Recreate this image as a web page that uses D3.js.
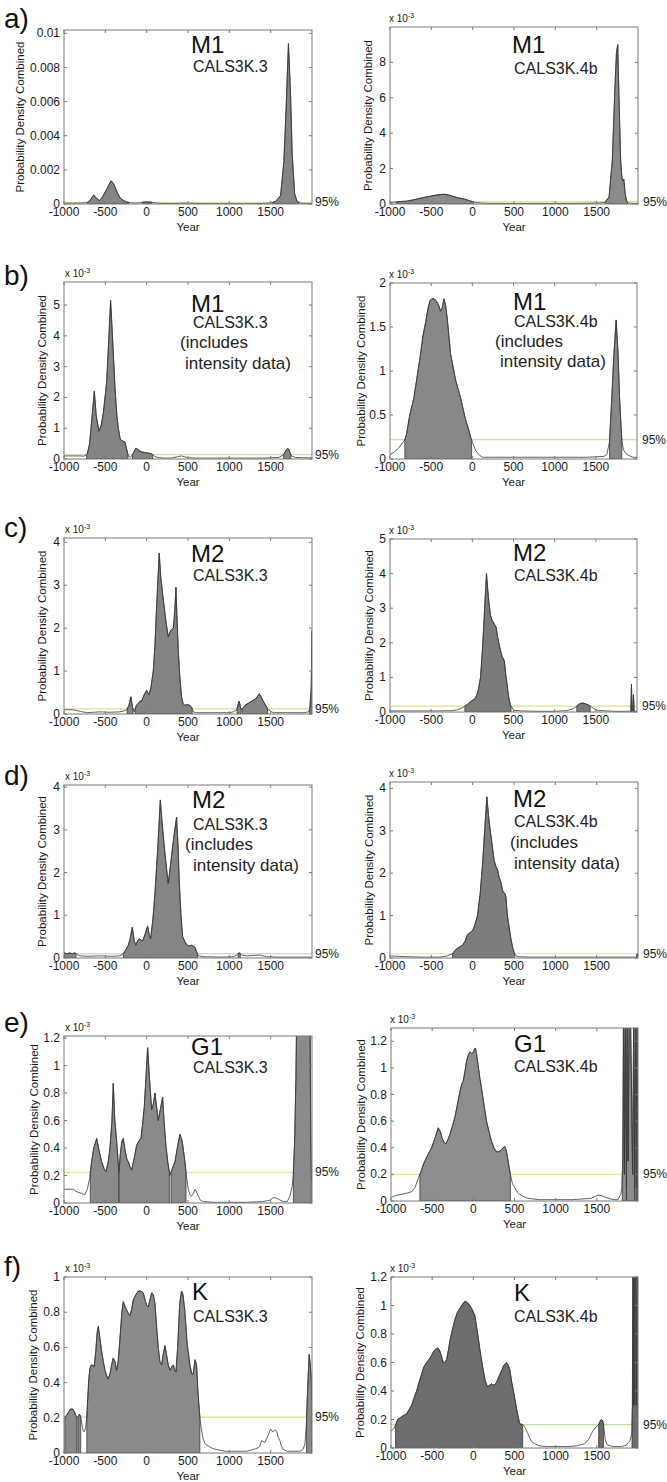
<!DOCTYPE html>
<html>
<head>
<meta charset="utf-8">
<script src="https://cdn.jsdelivr.net/npm/d3@7"></script>
<style>
  html, body { margin: 0; padding: 0; background: #fff; }
  svg { display: block; font-family: "Liberation Sans", Arial, sans-serif; }
</style>
</head>
<body>
<svg id="chart" width="667" height="1482"></svg>
<script>
// ---------------- DATA (year, probability density in units of 1e-3) ----------------
const M1_CALS3K3 = [[-1000,0.05],[-900,0.05],[-800,0.05],[-720,0.08],[-680,0.25],[-640,0.53],[-600,0.3],[-570,0.2],[-530,0.45],[-480,0.9],[-430,1.36],[-400,1.2],[-360,0.7],[-320,0.35],[-280,0.2],[-240,0.12],[-200,0.08],[-150,0.05],[-100,0.06],[-50,0.1],[0,0.13],[50,0.11],[100,0.06],[200,0.03],[300,0.03],[400,0.04],[500,0.05],[600,0.03],[800,0.02],[1000,0.02],[1200,0.02],[1400,0.03],[1500,0.06],[1560,0.15],[1620,0.5],[1660,2.5],[1690,6],[1715,9.4],[1740,6.5],[1760,3],[1790,0.6],[1820,0.15],[1860,0.05],[1950,0.03],[2000,0.03]];

const M1_CALS3K4b = [[-1000,0.08],[-970,0.1],[-900,0.13],[-800,0.16],[-700,0.25],[-600,0.36],[-500,0.45],[-420,0.52],[-350,0.55],[-300,0.52],[-250,0.45],[-180,0.35],[-100,0.28],[-50,0.2],[0,0.13],[50,0.08],[100,0.05],[200,0.03],[400,0.03],[600,0.03],[800,0.03],[1000,0.03],[1200,0.03],[1400,0.04],[1550,0.06],[1600,0.1],[1650,0.4],[1690,2.5],[1720,6.5],[1740,8.6],[1755,9.0],[1770,6],[1790,2.5],[1805,1.5],[1815,1.3],[1828,1.4],[1845,0.6],[1860,0.2],[1880,0.05],[1950,0.03],[2000,0.03]];

const M1int_CALS3K3 = [[-1000,0.1],[-900,0.1],[-800,0.1],[-760,0.09],[-720,0.15],[-690,0.5],[-660,1.4],[-633,2.2],[-610,1.4],[-577,0.9],[-550,1.1],[-524,1.5],[-484,2.5],[-460,3.8],[-436,5.15],[-410,3.8],[-383,2.3],[-360,1.4],[-343,1.0],[-320,0.65],[-303,0.6],[-263,0.55],[-240,0.3],[-222,0.1],[-195,0.05],[-170,0.15],[-130,0.35],[-100,0.3],[-81,0.25],[-40,0.22],[0,0.2],[40,0.18],[70,0.15],[100,0.08],[140,0.05],[200,0.03],[300,0.03],[420,0.1],[500,0.04],[600,0.03],[800,0.03],[1000,0.03],[1200,0.03],[1400,0.03],[1600,0.05],[1660,0.15],[1690,0.3],[1705,0.35],[1720,0.3],[1750,0.1],[1800,0.05],[1900,0.04],[2000,0.04]];

const M1int_CALS3K4b = [[-1000,0.05],[-950,0.08],[-900,0.12],[-850,0.18],[-820,0.22],[-800,0.28],[-760,0.5],[-709,0.7],[-660,1.0],[-628,1.2],[-600,1.4],[-568,1.55],[-540,1.7],[-515,1.8],[-490,1.82],[-467,1.82],[-440,1.8],[-410,1.75],[-386,1.68],[-365,1.72],[-346,1.82],[-325,1.75],[-305,1.6],[-265,1.2],[-204,0.9],[-144,0.7],[-83,0.45],[-40,0.32],[-22,0.25],[0,0.2],[38,0.1],[80,0.05],[119,0.02],[200,0.02],[400,0.02],[600,0.02],[800,0.02],[1000,0.02],[1200,0.02],[1400,0.02],[1600,0.03],[1634,0.05],[1666,0.2],[1694,0.7],[1720,1.2],[1747,1.58],[1770,1.2],[1788,0.7],[1816,0.2],[1836,0.1],[1876,0.05],[1950,0.02],[2000,0.02]];

const M2_CALS3K3 = [[-1000,0.1],[-900,0.1],[-847,0.08],[-800,0.06],[-726,0.03],[-650,0.04],[-565,0.05],[-450,0.04],[-323,0.05],[-260,0.08],[-242,0.1],[-215,0.2],[-190,0.4],[-170,0.15],[-150,0.05],[-125,0.2],[-101,0.25],[-80,0.3],[-61,0.3],[-30,0.45],[0,0.55],[28,0.45],[50,0.6],[80,1.0],[100,1.6],[120,2.5],[152,3.75],[170,3.2],[193,2.8],[230,2.2],[261,1.8],[290,1.95],[322,2.0],[340,2.4],[354,2.95],[368,2.2],[382,1.5],[400,0.9],[422,0.4],[440,0.25],[463,0.2],[490,0.22],[523,0.2],[545,0.15],[563,0.05],[600,0.03],[800,0.03],[1000,0.03],[1047,0.05],[1090,0.1],[1110,0.25],[1120,0.3],[1135,0.15],[1148,0.1],[1170,0.15],[1188,0.2],[1230,0.25],[1269,0.3],[1320,0.35],[1361,0.47],[1385,0.4],[1410,0.3],[1440,0.2],[1470,0.1],[1531,0.03],[1700,0.03],[1900,0.03],[1960,0.05],[1975,0.15],[1990,0.6],[2000,1.95]];

const M2_CALS3K4b = [[-1000,0.03],[-800,0.03],[-600,0.03],[-400,0.03],[-250,0.04],[-184,0.06],[-140,0.1],[-103,0.15],[-60,0.22],[-22,0.3],[10,0.35],[38,0.4],[70,0.6],[99,1.0],[120,1.7],[139,2.5],[158,3.4],[172,4.0],[185,3.6],[200,3.2],[220,2.8],[240,2.65],[265,2.55],[289,2.45],[305,2.2],[321,2.0],[340,1.8],[362,1.6],[376,1.55],[390,1.45],[405,1.1],[422,0.8],[440,0.45],[462,0.2],[503,0.05],[600,0.03],[800,0.02],[1000,0.02],[1150,0.04],[1230,0.1],[1260,0.15],[1290,0.22],[1320,0.25],[1343,0.26],[1380,0.23],[1412,0.2],[1445,0.15],[1473,0.1],[1513,0.05],[1700,0.02],[1900,0.02],[1925,0.03],[1933,0.8],[1940,0.05],[1950,0.04],[1957,0.5],[1965,0.04],[1980,0.02],[2000,0.02]];

const M2int_CALS3K3 = [[-1000,0.12],[-960,0.1],[-930,0.12],[-900,0.1],[-870,0.12],[-840,0.08],[-807,0.05],[-700,0.04],[-565,0.05],[-420,0.04],[-323,0.05],[-283,0.1],[-250,0.2],[-222,0.3],[-200,0.45],[-174,0.72],[-150,0.4],[-130,0.3],[-110,0.4],[-89,0.45],[-70,0.42],[-49,0.4],[-20,0.55],[12,0.75],[30,0.55],[48,0.45],[75,0.9],[100,1.5],[135,2.6],[165,3.7],[190,3.1],[213,2.6],[240,2.1],[261,1.75],[290,2.2],[314,2.6],[340,3.0],[362,3.3],[380,2.6],[394,1.8],[415,1.0],[435,0.5],[470,0.35],[503,0.28],[543,0.3],[584,0.25],[610,0.12],[624,0.05],[700,0.03],[900,0.02],[1050,0.03],[1100,0.08],[1115,0.12],[1128,0.11],[1150,0.07],[1208,0.05],[1300,0.06],[1370,0.07],[1450,0.03],[1600,0.02],[1800,0.02],[2000,0.02]];

const M2int_CALS3K4b = [[-1000,0.05],[-900,0.04],[-800,0.03],[-600,0.02],[-400,0.02],[-305,0.05],[-245,0.1],[-204,0.2],[-160,0.26],[-123,0.3],[-90,0.4],[-63,0.55],[-30,0.6],[0,0.65],[30,0.8],[58,1.0],[90,1.5],[119,2.2],[145,3.0],[172,3.8],[185,3.5],[200,3.2],[220,2.9],[240,2.6],[260,2.3],[281,2.15],[300,2.1],[320,1.9],[341,1.8],[360,1.6],[374,1.55],[388,1.52],[402,1.45],[420,1.0],[443,0.7],[463,0.45],[483,0.25],[503,0.12],[523,0.05],[560,0.03],[700,0.02],[900,0.02],[1100,0.02],[1300,0.02],[1500,0.02],[1700,0.02],[1900,0.02],[1980,0.02],[1990,0.1],[2000,0.02]];

const G1_CALS3K3 = [[-1000,0.1],[-950,0.1],[-887,0.1],[-840,0.08],[-786,0.07],[-750,0.06],[-718,0.1],[-690,0.18],[-666,0.3],[-640,0.4],[-605,0.47],[-575,0.38],[-545,0.3],[-515,0.25],[-492,0.23],[-465,0.3],[-444,0.4],[-420,0.6],[-404,0.87],[-385,0.6],[-363,0.45],[-345,0.3],[-335,0.22],[-320,0.35],[-300,0.45],[-283,0.47],[-260,0.38],[-240,0.32],[-222,0.3],[-200,0.26],[-182,0.24],[-150,0.33],[-121,0.42],[-95,0.45],[-69,0.47],[-45,0.6],[-29,0.7],[-10,0.9],[12,1.13],[35,0.9],[60,0.68],[80,0.72],[100,0.8],[120,0.7],[140,0.6],[165,0.68],[193,0.77],[210,0.6],[233,0.42],[255,0.3],[281,0.2],[310,0.25],[342,0.3],[370,0.4],[402,0.5],[430,0.45],[463,0.3],[480,0.2],[503,0.1],[525,0.06],[543,0.05],[565,0.07],[584,0.1],[604,0.08],[624,0.05],[650,0.02],[684,0.01],[800,0.005],[1000,0.005],[1200,0.005],[1400,0.01],[1490,0.02],[1531,0.04],[1571,0.035],[1620,0.02],[1652,0.01],[1700,0.01],[1732,0.05],[1760,0.12],[1773,0.2],[1790,0.45],[1805,0.9],[1820,1.6],[1840,3],[1900,3],[1960,3],[1975,1.5],[1985,0.5],[1992,0.2],[2000,0.15]];

const G1_CALS3K4b = [[-1000,0.025],[-950,0.04],[-871,0.05],[-800,0.06],[-750,0.07],[-709,0.1],[-669,0.17],[-636,0.22],[-610,0.27],[-588,0.3],[-550,0.35],[-507,0.4],[-467,0.47],[-426,0.55],[-400,0.52],[-378,0.47],[-355,0.44],[-333,0.43],[-310,0.46],[-285,0.5],[-255,0.56],[-224,0.63],[-195,0.72],[-164,0.82],[-140,0.88],[-123,0.9],[-100,0.98],[-83,1.05],[-60,1.1],[-42,1.12],[-20,1.11],[0,1.12],[15,1.14],[26,1.15],[40,1.1],[58,1.02],[80,0.92],[99,0.85],[130,0.72],[160,0.6],[190,0.52],[220,0.45],[250,0.4],[281,0.37],[310,0.37],[333,0.38],[360,0.4],[382,0.41],[400,0.38],[422,0.3],[450,0.2],[475,0.13],[503,0.1],[530,0.07],[563,0.05],[620,0.03],[665,0.02],[800,0.01],[1000,0.01],[1200,0.01],[1432,0.02],[1480,0.035],[1513,0.045],[1560,0.04],[1594,0.03],[1700,0.01],[1755,0.01],[1790,0.05],[1804,0.1],[1815,0.3],[1825,1.6],[1835,0.2],[1845,1.6],[1860,0.1],[1866,1.6],[1874,1.6],[1880,0.3],[1895,1.6],[1905,1.6],[1935,0.2],[1950,1.6],[1960,0.1],[1975,1.6],[1988,0.1],[2000,1.6]];

const K_CALS3K3 = [[-1000,0.2],[-975,0.21],[-948,0.23],[-920,0.25],[-895,0.25],[-870,0.23],[-855,0.21],[-835,0.2],[-815,0.22],[-800,0.21],[-786,0.17],[-770,0.13],[-758,0.12],[-740,0.14],[-725,0.2],[-714,0.3],[-700,0.42],[-686,0.48],[-670,0.5],[-653,0.5],[-635,0.49],[-615,0.58],[-600,0.68],[-585,0.72],[-565,0.65],[-545,0.58],[-525,0.52],[-504,0.47],[-484,0.44],[-464,0.42],[-444,0.45],[-424,0.5],[-405,0.54],[-383,0.52],[-365,0.47],[-345,0.52],[-323,0.65],[-300,0.8],[-283,0.86],[-260,0.83],[-230,0.8],[-202,0.78],[-180,0.82],[-162,0.87],[-130,0.9],[-101,0.92],[-70,0.92],[-41,0.91],[-20,0.87],[0,0.84],[20,0.83],[40,0.87],[60,0.91],[80,0.9],[100,0.85],[120,0.72],[140,0.6],[160,0.52],[181,0.5],[200,0.56],[221,0.61],[240,0.56],[261,0.5],[285,0.47],[302,0.49],[322,0.5],[340,0.47],[354,0.46],[375,0.6],[400,0.85],[422,0.92],[440,0.9],[463,0.8],[490,0.62],[523,0.5],[545,0.45],[563,0.45],[585,0.53],[604,0.5],[620,0.35],[644,0.2],[660,0.14],[684,0.08],[710,0.05],[745,0.04],[800,0.025],[845,0.02],[950,0.01],[1047,0.01],[1150,0.01],[1208,0.01],[1250,0.015],[1289,0.02],[1320,0.025],[1350,0.03],[1370,0.04],[1390,0.07],[1410,0.065],[1430,0.06],[1450,0.08],[1470,0.1],[1485,0.12],[1498,0.135],[1515,0.125],[1530,0.12],[1545,0.13],[1560,0.13],[1575,0.12],[1590,0.09],[1611,0.07],[1630,0.04],[1652,0.02],[1700,0.01],[1853,0.01],[1890,0.02],[1914,0.05],[1930,0.15],[1942,0.3],[1955,0.45],[1966,0.56],[1980,0.5],[1994,0.4],[2000,0.3]];

const K_CALS3K4b = [[-1000,0.12],[-980,0.13],[-960,0.14],[-940,0.17],[-919,0.2],[-895,0.21],[-871,0.22],[-840,0.23],[-810,0.24],[-780,0.27],[-750,0.3],[-720,0.35],[-689,0.4],[-660,0.46],[-628,0.52],[-600,0.57],[-568,0.6],[-540,0.62],[-507,0.65],[-480,0.68],[-447,0.7],[-426,0.7],[-406,0.68],[-385,0.64],[-366,0.6],[-345,0.6],[-325,0.62],[-305,0.68],[-285,0.75],[-255,0.83],[-224,0.9],[-195,0.95],[-164,0.98],[-130,1.01],[-103,1.03],[-72,1.02],[-42,1.0],[-12,0.97],[18,0.93],[40,0.85],[58,0.78],[90,0.65],[119,0.55],[145,0.47],[172,0.43],[195,0.44],[220,0.45],[250,0.44],[281,0.46],[310,0.5],[341,0.54],[370,0.58],[402,0.6],[425,0.58],[443,0.55],[470,0.45],[503,0.35],[530,0.26],[563,0.17],[596,0.165],[624,0.15],[655,0.11],[685,0.07],[715,0.04],[745,0.03],[800,0.015],[900,0.01],[1000,0.01],[1149,0.01],[1250,0.015],[1351,0.03],[1400,0.06],[1432,0.1],[1465,0.13],[1493,0.15],[1520,0.16],[1540,0.19],[1555,0.2],[1574,0.19],[1590,0.12],[1602,0.06],[1620,0.03],[1634,0.02],[1700,0.01],[1796,0.01],[1860,0.02],[1885,0.04],[1900,0.05],[1925,0.1],[1932,0.3],[1938,1.5],[1945,1.5],[1950,0.3],[1962,1.5],[1972,1.5],[1980,0.3],[1990,1.5],[2000,1.5]];

const curves = [M1_CALS3K3, M1_CALS3K4b, M1int_CALS3K3, M1int_CALS3K4b, M2_CALS3K3, M2_CALS3K4b,
                M2int_CALS3K3, M2int_CALS3K4b, G1_CALS3K3, G1_CALS3K4b, K_CALS3K3, K_CALS3K4b];
const thresholds95 = [0.1, 0.12, 0.14, 0.22, 0.12, 0.17, 0.1, 0.1, 0.223, 0.2, 0.204, 0.163];
const yMaxes = [10.2, 10, 5.75, 2, 4.1, 5, 4.05, 4.15, 1.215, 1.3, 1.0, 1.2];
const yTickSets = [[0,2,4,6,8,10],[0,2,4,6,8],[0,1,2,3,4,5],[0,0.5,1,1.5,2],[0,1,2,3,4],[0,1,2,3,4,5],
                   [0,1,2,3,4],[0,1,2,3,4],[0,0.2,0.4,0.6,0.8,1,1.2],[0,0.2,0.4,0.6,0.8,1,1.2],
                   [0,0.2,0.4,0.6,0.8,1],[0,0.2,0.4,0.6,0.8,1,1.2]];
const xTicks = [-1000, -500, 0, 500, 1000, 1500];
const xDomain = [-1000, 2000];
const sites = ['M1','M1','M1','M1','M2','M2','M2','M2','G1','G1','K','K'];
const models = ['CALS3K.3','CALS3K.4b'];
const includesIntensity = [false,false,true,true,false,false,true,true,false,false,false,false];
const rowLetters = ['a)','b)','c)','d)','e)','f)'];

// ---------------- LAYOUT ----------------
const frames = [
  {x0:64, x1:312, y0:30, y1:204},   {x0:390, x1:638, y0:27, y1:204},
  {x0:64, x1:312, y0:282, y1:459},  {x0:390, x1:637, y0:283, y1:459},
  {x0:64, x1:312, y0:538, y1:714},  {x0:390, x1:637, y0:539, y1:712},
  {x0:64, x1:312, y0:785, y1:958},  {x0:390, x1:638, y0:782, y1:958},
  {x0:64, x1:312, y0:1036, y1:1203},{x0:391, x1:638, y0:1028, y1:1201},
  {x0:64, x1:312, y0:1277, y1:1453},{x0:391, x1:638, y0:1277, y1:1448}
];
const titleY = [[53,72],[53,74],[312,328,348,369],[310,327,347,367],[562,581],[561,581],
                [808,830,850,871],[807,827,848,869],[1055,1073],[1052,1072],[1300,1322],[1301,1322]];
const titleX = [[191,193],[512,514],[191,193,180,185],[513,514,495,500],[191,193],[513,514],
                [192,193,185,193],[513,514,510,514],[191,193],[514,514],[192,193],[514,514]];
const yLabelX = [20,368,42,361,42,369,42,369,34,361,33,360];
const rowLabelY = [28,285,537,785,1032,1276];
const lineColors = ['#dde39a','#c8e27e','#d6dab0','#d4dcb2','#dbe68e','#d4e58a','#c8cabd','#dde4a6',
                    '#e6ec7a','#e4ee72','#d6e86c','#9fdf6c'];
const fillColors = ['#858585','#8a8a8a','#848484','#888888','#838383','#7b7b7b','#858585','#7d7d7d',
                    '#8a8a8a','#8d8d8d','#8a8a8a','#6d6d6d'];

const svg = d3.select('#chart');
const defs = svg.append('defs');

function aboveSegments(data, thr) {
  const segs = []; let cur = null;
  for (let i = 0; i < data.length; i++) {
    const [x, v] = data[i];
    if (v >= thr) {
      if (!cur) {
        cur = [];
        if (i > 0) { const [px, pv] = data[i-1]; const t = (thr - pv) / (v - pv); cur.push([px + t*(x - px), thr]); }
      }
      cur.push([x, v]);
    } else if (cur) {
      const [px, pv] = data[i-1]; const t = (thr - pv) / (v - pv);
      cur.push([px + t*(x - px), thr]); segs.push(cur); cur = null;
    }
  }
  if (cur) segs.push(cur);
  return segs;
}

// row labels
rowLetters.forEach((t, i) => {
  svg.append('text').attr('x', 4).attr('y', rowLabelY[i]).attr('font-size', 28).attr('fill', '#111').text(t);
});

curves.forEach((data, i) => {
  const f = frames[i];
  const isLeft = i % 2 === 0;
  const x = d3.scaleLinear().domain(xDomain).range([f.x0, f.x1]);
  const y = d3.scaleLinear().domain([0, yMaxes[i]]).range([f.y1, f.y0]);
  const thr = thresholds95[i];
  const g = svg.append('g');

  const clipId = 'clip' + i;
  defs.append('clipPath').attr('id', clipId).append('rect')
    .attr('x', f.x0).attr('y', f.y0).attr('width', f.x1 - f.x0).attr('height', f.y1 - f.y0);
  const plot = g.append('g').attr('clip-path', `url(#${clipId})`);

  // 95% threshold line
  plot.append('line').attr('x1', f.x0).attr('x2', f.x1).attr('y1', y(thr)).attr('y2', y(thr))
    .attr('stroke', lineColors[i]).attr('stroke-width', 1.2);

  // shaded regions above the 95% level
  const area = d3.area().x(d => x(d[0])).y0(y(0)).y1(d => y(d[1]));
  aboveSegments(data, thr).forEach(seg => {
    plot.append('path').attr('d', area(seg)).attr('fill', fillColors[i])
      .attr('stroke', '#2a2a2a').attr('stroke-width', 0.7).attr('stroke-linejoin', 'round');
  });

  // full density curve
  const line = d3.line().x(d => x(d[0])).y(d => y(d[1]));
  plot.append('path').attr('d', line(data)).attr('fill', 'none')
    .attr('stroke', '#3a3a3a').attr('stroke-width', 0.8).attr('stroke-linejoin', 'round');

  // frame
  g.append('rect').attr('x', f.x0).attr('y', f.y0).attr('width', f.x1 - f.x0).attr('height', f.y1 - f.y0)
    .attr('fill', 'none').attr('stroke', '#7a7a7a').attr('stroke-width', 1);

  // x ticks (inward, bottom and top)
  const fmtX = v => String(v);
  xTicks.forEach(v => {
    const px = x(v);
    g.append('line').attr('x1', px).attr('x2', px).attr('y1', f.y1).attr('y2', f.y1 - 3).attr('stroke', '#7a7a7a');
    g.append('line').attr('x1', px).attr('x2', px).attr('y1', f.y0).attr('y2', f.y0 + 3).attr('stroke', '#7a7a7a');
    g.append('text').attr('x', px).attr('y', f.y1 + 12).attr('text-anchor', 'middle')
      .attr('font-size', 12).attr('fill', '#1a1a1a').text(fmtX(v));
  });
  g.append('text').attr('x', (f.x0 + f.x1) / 2).attr('y', f.y1 + 27).attr('text-anchor', 'middle')
    .attr('font-size', 11.5).attr('fill', '#1a1a1a').text('Year');

  // y ticks
  const fmtY = i === 0 ? (v => v === 0 ? '0' : String(+(v / 1000).toFixed(3))) : (v => String(v));
  yTickSets[i].forEach(v => {
    const py = y(v);
    g.append('line').attr('x1', f.x0).attr('x2', f.x0 + 3).attr('y1', py).attr('y2', py).attr('stroke', '#7a7a7a');
    g.append('line').attr('x1', f.x1).attr('x2', f.x1 - 3).attr('y1', py).attr('y2', py).attr('stroke', '#7a7a7a');
    g.append('text').attr('x', f.x0 - 4).attr('y', py + 4).attr('text-anchor', 'end')
      .attr('font-size', 12).attr('fill', '#1a1a1a').text(fmtY(v));
  });

  // exponent label
  if (i !== 0) {
    const t = g.append('text').attr('x', f.x0 + (isLeft ? 1 : -1)).attr('y', f.y0 - 5)
      .attr('font-size', 10).attr('fill', '#1a1a1a');
    t.append('tspan').text('x 10');
    t.append('tspan').attr('dy', -4).attr('font-size', 7).text('-3');
  }

  // y axis label
  const cy = (f.y0 + f.y1) / 2;
  g.append('text').attr('transform', `translate(${yLabelX[i] + 4},${cy}) rotate(-90)`)
    .attr('text-anchor', 'middle').attr('font-size', 11.5).attr('fill', '#1a1a1a')
    .text('Probability Density Combined');

  // 95% label
  g.append('text').attr('x', f.x1 + (isLeft ? 3 : 5)).attr('y', y(thr) + 4)
    .attr('font-size', 12).attr('fill', '#1a1a1a').text('95%');

  // titles
  const ty = titleY[i], tx = titleX[i];
  g.append('text').attr('x', tx[0]).attr('y', ty[0]).attr('font-size', 24).attr('fill', '#111').text(sites[i]);
  g.append('text').attr('x', tx[1]).attr('y', ty[1]).attr('font-size', 16).attr('fill', '#222').text(models[i % 2]);
  if (includesIntensity[i]) {
    g.append('text').attr('x', tx[2]).attr('y', ty[2]).attr('font-size', 17).attr('fill', '#222').text('(includes');
    g.append('text').attr('x', tx[3]).attr('y', ty[3]).attr('font-size', 17).attr('fill', '#222').text('intensity data)');
  }
});
</script>
</body>
</html>
